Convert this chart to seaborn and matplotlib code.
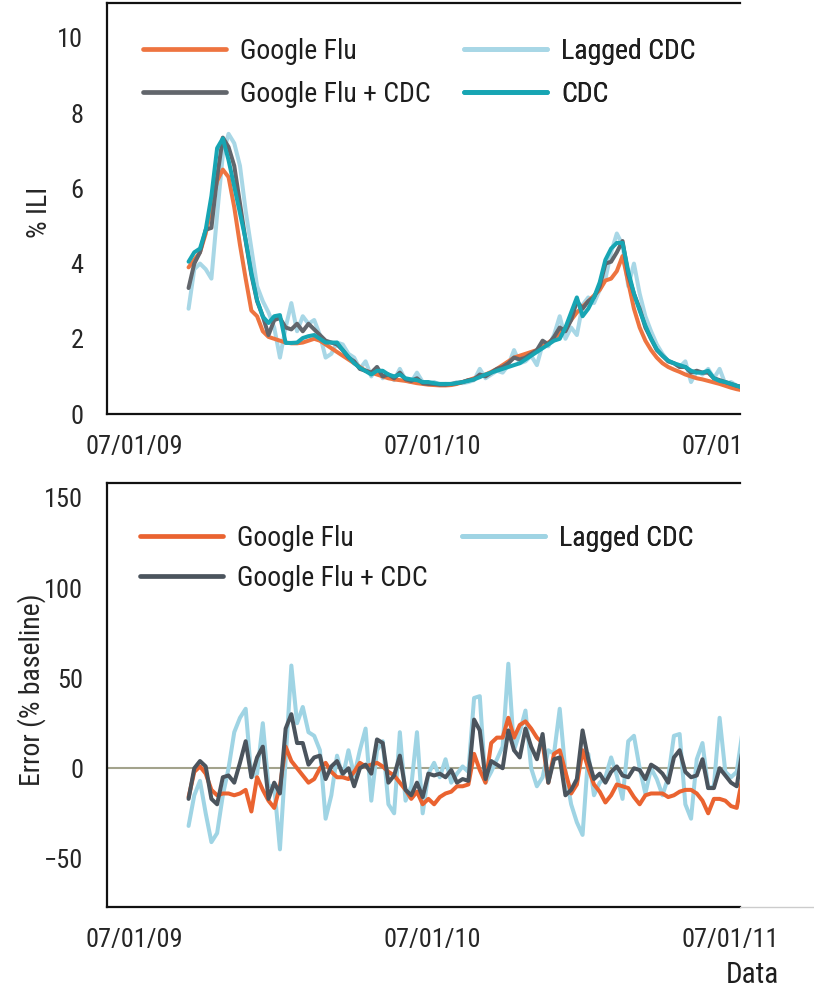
import numpy as np
import pandas as pd
import matplotlib
matplotlib.use("Agg")
import matplotlib.pyplot as plt
import matplotlib.dates as mdates
from matplotlib import font_manager
from matplotlib.transforms import Bbox, TransformedBbox
from matplotlib.lines import Line2D
import seaborn as sns

# ---------------- data (weekly, starting 2009-09-05) ----------------
start_date = "2009-09-05"
n_weeks = 98

cdc = [4.05, 4.3, 4.4, 4.9, 5.8, 7.07, 7.33, 6.75, 6.05, 5.34,
       4.63, 3.75, 3.03, 2.59, 2.42, 2.6, 2.63, 1.89, 1.89, 1.9,
       2.02, 2.07, 2.1, 2.0, 1.9, 1.9, 1.9, 1.7, 1.52, 1.35,
       1.23, 1.14, 1.05, 1.15, 1.15, 1.05, 1.0, 1.05, 0.95, 0.92,
       0.9, 0.85, 0.85, 0.82, 0.8, 0.8, 0.8, 0.82, 0.85, 0.88,
       0.92, 0.98, 1.05, 1.1, 1.15, 1.2, 1.25, 1.3, 1.35, 1.45,
       1.55, 1.65, 1.75, 1.85, 1.95, 2.0, 2.3, 2.7, 3.1, 2.6,
       2.8, 3.1, 3.5, 4.1, 4.4, 4.55, 4.55, 3.8, 3.2, 2.75,
       2.35, 2.0, 1.72, 1.55, 1.42, 1.35, 1.3, 1.25, 1.15, 1.1,
       1.1, 1.15, 0.95, 0.88, 0.85, 0.8, 0.75, 0.7]

lagged_cdc = [2.8, 3.85, 4.0, 3.85, 3.6, 5.3, 6.9, 7.45, 7.2, 6.6,
              5.4, 4.4, 3.4, 3.0, 2.7, 2.3, 1.5, 2.3, 2.95, 2.2,
              2.6, 2.4, 2.5, 2.1, 1.5, 1.6, 1.9, 1.85, 1.6, 1.5,
              1.2, 1.4, 1.0, 1.25, 0.95, 1.05, 0.9, 1.2, 0.9, 0.85,
              1.1, 0.85, 0.8, 0.85, 0.78, 0.8, 0.78, 0.85, 0.82, 0.85,
              0.9, 1.2, 0.95, 1.05, 1.15, 1.1, 1.3, 1.7, 1.35, 1.4,
              1.55, 1.3, 1.85, 1.8, 2.1, 2.6, 2.0, 2.3, 2.1, 2.9,
              3.1, 2.95, 3.3, 3.6, 4.3, 4.8, 4.5, 3.4, 4.0, 3.2,
              2.6, 2.2, 1.85, 1.6, 1.4, 1.35, 1.25, 1.4, 0.85, 1.15,
              1.05, 1.2, 0.95, 1.2, 0.8, 0.85, 0.75, 0.7]

google_flu = [3.9, 4.1, 4.3, 4.8, 5.5, 6.2, 6.5, 6.3, 5.5, 4.5,
              3.6, 2.75, 2.6, 2.2, 2.05, 2.0, 1.95, 1.9, 1.88, 1.88,
              1.9, 1.95, 2.0, 1.95, 1.85, 1.75, 1.65, 1.55, 1.45, 1.35,
              1.25, 1.15, 1.1, 1.05, 1.0, 0.95, 0.92, 0.9, 0.88, 0.85,
              0.82, 0.8, 0.78, 0.77, 0.76, 0.76, 0.77, 0.8, 0.85, 0.9,
              0.95, 1.0, 1.05, 1.12, 1.2, 1.3, 1.4, 1.5, 1.55, 1.6,
              1.65, 1.7, 1.8, 1.9, 2.0, 2.15, 2.3, 2.5, 2.7, 2.85,
              3.0, 3.15, 3.3, 3.55, 3.6, 3.8, 4.2, 3.5, 2.8, 2.3,
              1.95, 1.7, 1.5, 1.35, 1.25, 1.18, 1.12, 1.05, 1.0, 0.95,
              0.92, 0.88, 0.84, 0.8, 0.75, 0.7, 0.66, 0.63]

google_flu_cdc = [3.35, 4.0, 4.3, 4.9, 4.95, 6.3, 7.35, 7.1, 6.6, 5.6,
                  4.6, 3.7, 3.0, 2.6, 2.1, 2.5, 2.55, 2.3, 2.25, 2.4,
                  2.2, 2.4, 2.25, 2.1, 1.95, 1.9, 1.85, 1.7, 1.5, 1.4,
                  1.2, 1.15, 1.1, 1.25, 1.0, 1.05, 0.95, 1.1, 0.92, 0.88,
                  0.95, 0.82, 0.8, 0.8, 0.78, 0.78, 0.8, 0.82, 0.85, 0.9,
                  0.92, 1.05, 1.0, 1.1, 1.2, 1.25, 1.35, 1.5, 1.45, 1.5,
                  1.6, 1.7, 1.95, 1.85, 2.05, 2.3, 2.2, 2.5, 3.0, 2.8,
                  3.0, 3.1, 3.4, 4.0, 4.05, 4.3, 4.6, 3.7, 3.2, 2.8,
                  2.3, 2.0, 1.7, 1.55, 1.4, 1.35, 1.25, 1.25, 1.1, 1.15,
                  1.1, 1.1, 0.95, 0.9, 0.85, 0.8, 0.75, 0.72]

err_google_flu = [-16, -2, 1, -3, -12, -15, -14, -14, -15, -14,
                  -12, -24, -5, -12, -18, -22, -10, 12, 4, 0,
                  -4, -8, -6, 0, 3, -2, -5, -5, -6, -2,
                  3, 1, 2, 3, 1, -2, -4, -8, -12, -17,
                  -13, -20, -17, -20, -16, -14, -13, -10, -10, -9,
                  8, -1, -8, 14, 17, 17, 28, 17, 24, 26,
                  22, 17, 14, -8, 8, 10, -2, -14, -9, 10,
                  0, -9, -13, -19, -15, -9, -10, -11, -16, -20,
                  -15, -14, -14, -14, -16, -15, -13, -12, -12, -14,
                  -18, -25, -17, -17, -18, -21, -22, -5]

err_lagged_cdc = [-32, -15, -7, -25, -41, -36, -15, 0, 20, 28,
                  33, -5, -3, 25, -10, -10, -45, 5, 57, 25,
                  34, 20, 18, 10, -28, -15, 7, -5, 10, -4,
                  10, 22, -18, 10, 15, -20, -25, 20, -18, -10,
                  20, -25, -3, 3, -5, 5, -8, -3, 1, -2,
                  39, 40, -8, -2, 5, 12, 58, 10, 20, 32,
                  0, -10, -5, 10, 8, 33, -2, -20, -30, -37,
                  8, -15, -8, -5, 6, -4, -17, 15, 18, 0,
                  -14, 0, -6, -15, -5, 18, 19, -20, -28, 5,
                  14, -11, -10, 28, -2, -5, -2, 20]

err_google_flu_cdc = [-17, 0, 4, 1, -17, -20, -5, -4, -8, 3,
                      15, -5, 6, 12, -17, -8, -14, 22, 30, 14,
                      14, 2, 6, 7, -6, 1, 4, -3, 0, -10,
                      0, 2, -3, 16, 14, -8, -4, 7, -12, -15,
                      -8, -16, -3, -4, -3, -5, -1, -8, -6, -7,
                      27, 21, -6, 4, 2, 0, 21, 10, 6, 22,
                      12, 5, 19, -8, 5, 6, -15, -12, -6, 21,
                      5, -6, -3, -8, -2, 1, -4, -5, 0, -1,
                      -6, 2, 0, -3, -8, 6, 10, -2, -5, -4,
                      5, -11, -11, 0, -4, -8, -10, 10]

top_series = ["Google Flu", "Google Flu + CDC", "Lagged CDC", "CDC"]
bottom_series = ["Google Flu", "Google Flu + CDC", "Lagged CDC"]
tick_dates = ["2009-07-01", "2010-07-01", "2011-07-01"]
top_yticks = [0, 2, 4, 6, 8, 10]
bottom_yticks = [-50, 0, 50, 100, 150]

# ---------------- style ----------------
sns.set_style("white")

def pick_font():
    names = {f.name for f in font_manager.fontManager.ttflist}
    for cand in ["Roboto Condensed", "Liberation Sans Narrow", "Open Sans Condensed"]:
        if cand in names:
            return cand, "normal"
    for f in font_manager.fontManager.ttflist:
        if f.name == "DejaVu Sans" and "ondensed" in str(f.stretch):
            return "DejaVu Sans", "condensed"
    return "DejaVu Sans", "normal"

fam, stretch = pick_font()
plt.rcParams["font.family"] = [fam, "DejaVu Sans"]
plt.rcParams["font.stretch"] = stretch
plt.rcParams["axes.linewidth"] = 1.6
plt.rcParams["text.color"] = "#1e1e1e"

FS_TICK = 19
FS_LEG = 20
FS_LAB = 20

col_orange = "#ee7440"
col_gray = "#62666c"
col_light = "#a8d7e6"
col_teal = "#17a5b3"
col_orange2 = "#ea6330"
col_gray2 = "#4b545d"
col_light2 = "#9fd4e4"

dates = pd.date_range(start_date, periods=n_weeks, freq="7D")

top_df = pd.DataFrame({"date": dates, "Google Flu": google_flu,
                       "Google Flu + CDC": google_flu_cdc,
                       "Lagged CDC": lagged_cdc, "CDC": cdc})
top_long = top_df.melt(id_vars="date", var_name="series", value_name="ili")

bot_df = pd.DataFrame({"date": dates, "Google Flu": err_google_flu,
                       "Google Flu + CDC": err_google_flu_cdc,
                       "Lagged CDC": err_lagged_cdc})
bot_long = bot_df.melt(id_vars="date", var_name="series", value_name="err")

W, H = 814, 992
fig = plt.figure(figsize=(W / 100, H / 100), dpi=100)

def fx(px):
    return px / W

def fy(py):
    return 1 - py / H

ax1 = fig.add_axes([fx(107), fy(414), fx(740) - fx(107), fy(3) - fy(414)])
ax2 = fig.add_axes([fx(107), fy(907), fx(740) - fx(107), fy(483) - fy(907)])

xmin = pd.Timestamp("2009-05-28")
xmax = pd.Timestamp("2011-07-13")

def add_legend(ax, names, palette, x_px, y_px, spacing):
    hs = [Line2D([0], [0], color=palette[n], lw=3.4) for n in names]
    leg = ax.legend(hs, names, frameon=False, fontsize=FS_LEG,
                    loc="upper left", bbox_to_anchor=(fx(x_px), fy(y_px)),
                    bbox_transform=fig.transFigure, borderpad=0,
                    borderaxespad=0, handlelength=3.0, handletextpad=0.5,
                    labelspacing=spacing)
    ax.add_artist(leg)
    return leg

# ---- top panel ----
top_pal = {"Google Flu": col_orange, "Google Flu + CDC": col_gray,
           "Lagged CDC": col_light, "CDC": col_teal}
draw_order = ["Lagged CDC", "Google Flu", "Google Flu + CDC", "CDC"]
for i, name in enumerate(draw_order):
    sub = top_long[top_long["series"] == name]
    sns.lineplot(data=sub, x="date", y="ili", ax=ax1, color=top_pal[name],
                 lw=2.9, zorder=2 + i, legend=False)

add_legend(ax1, top_series[:2], top_pal, 143, 38, 0.58)
add_legend(ax1, top_series[2:], top_pal, 464, 38, 0.58)

ax1.set_xlim(xmin, xmax)
ax1.set_ylim(0, 10.93)
ax1.set_yticks(top_yticks)
ax1.set_ylabel("% ILI", fontsize=FS_LAB)
ax1.yaxis.set_label_coords((53 - 107) / 633, 0.49)
ax1.set_xlabel("")

# ---- bottom panel ----
ax2.axhline(0, color="#a3a38c", lw=1.5, zorder=1)
bot_pal = {"Google Flu": col_orange2, "Google Flu + CDC": col_gray2,
           "Lagged CDC": col_light2}
for i, name in enumerate(["Lagged CDC", "Google Flu", "Google Flu + CDC"]):
    sub = bot_long[bot_long["series"] == name]
    sns.lineplot(data=sub, x="date", y="err", ax=ax2, color=bot_pal[name],
                 lw=2.9, zorder=2 + i, legend=False)

add_legend(ax2, bottom_series[:2], bot_pal, 140, 525, 0.46)
add_legend(ax2, bottom_series[2:], bot_pal, 462, 525, 0.46)

ax2.set_xlim(xmin, xmax)
ax2.set_ylim(-77, 158.3)
ax2.set_yticks(bottom_yticks)
ax2.set_ylabel("Error (% baseline)", fontsize=FS_LAB)
ax2.yaxis.set_label_coords((46 - 107) / 633, 0.512)
ax2.set_xlabel("")

for ax in (ax1, ax2):
    ax.set_xticks(pd.to_datetime(tick_dates))
    ax.xaxis.set_major_formatter(mdates.DateFormatter("%m/%d/%y"))
    ax.tick_params(axis="both", direction="out", length=12, width=1.6,
                   labelsize=FS_TICK, color="#1e1e1e", pad=5)
    ax.tick_params(axis="x", length=9, pad=6)
    for s in ["left", "bottom", "top"]:
        ax.spines[s].set_visible(True)
        ax.spines[s].set_color("#111111")
    ax.spines["right"].set_visible(False)
    ax.grid(False)

# faint continuation of the bottom axis line
fig.add_artist(Line2D([fx(740), 1.0], [fy(907), fy(907)],
                      color="#cccccc", lw=1.0, transform=fig.transFigure))

fig.text(fx(752), fy(975), "Data", ha="center", va="center", fontsize=FS_LAB + 1)

fig.canvas.draw()
clip = TransformedBbox(Bbox([[0, 0], [fx(740), 1]]), fig.transFigure)
for lab in ax1.get_xticklabels():
    lab.set_clip_on(True)
    lab.set_clip_box(clip)

fig.savefig("out.png", dpi=100)
